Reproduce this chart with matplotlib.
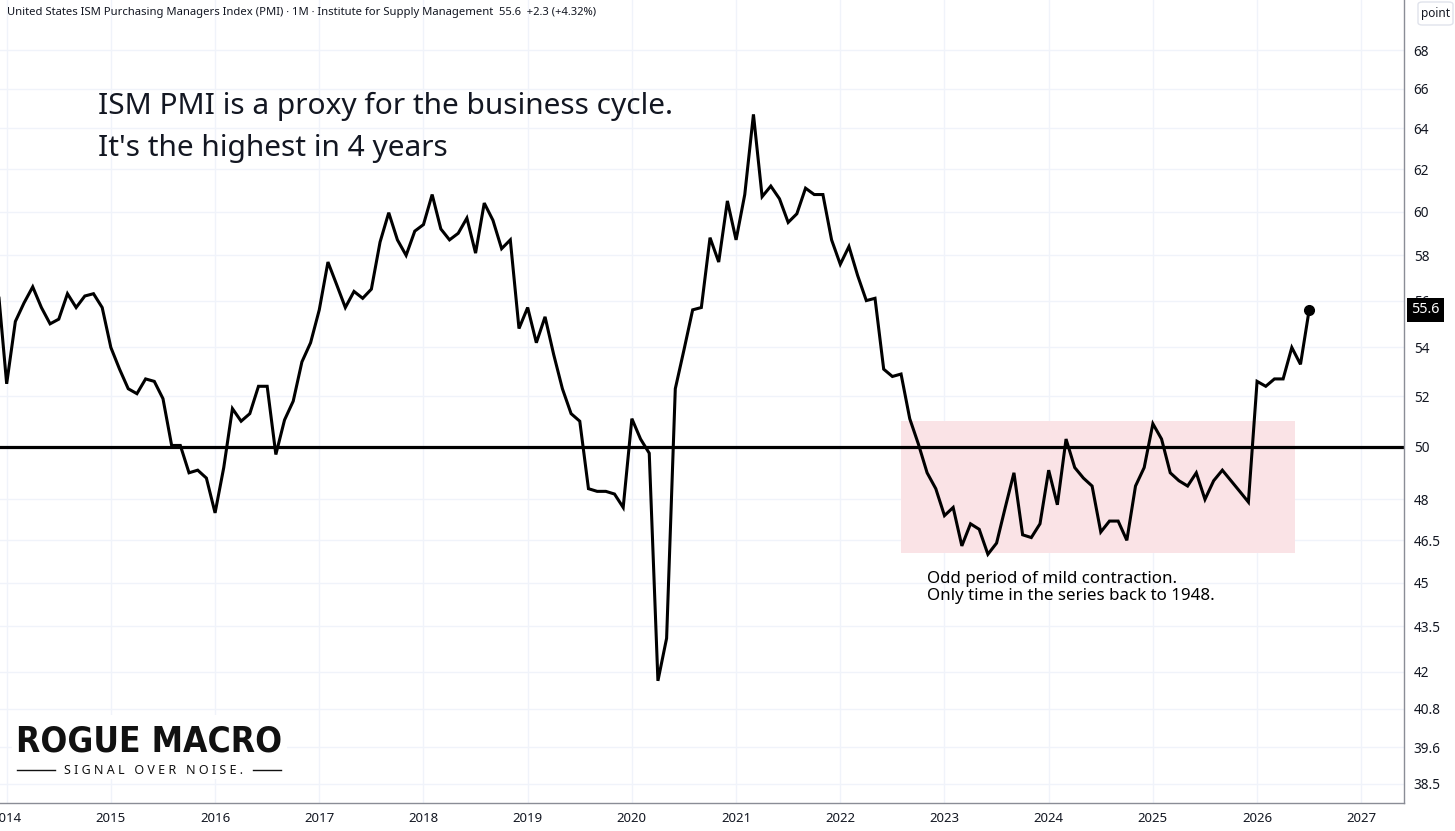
import numpy as np
import matplotlib.pyplot as plt
from matplotlib import font_manager
from matplotlib.patches import Rectangle, FancyBboxPatch
from matplotlib.lines import Line2D
from matplotlib.ticker import FixedLocator, FixedFormatter, NullLocator
from matplotlib.transforms import blended_transform_factory

# monthly ISM PMI, first value is Dec 2013
start_year = 2013
start_month = 12
pmi_2013 = [56.6]
pmi_2014 = [52.5, 55.1, 55.9, 56.6, 55.7, 55.0, 55.2, 56.3, 55.7, 56.2, 56.3, 55.7]
pmi_2015 = [54.0, 53.1, 52.3, 52.1, 52.7, 52.6, 51.9, 50.05, 50.05, 49.0, 49.1, 48.8]
pmi_2016 = [47.5, 49.2, 51.5, 51.0, 51.3, 52.4, 52.4, 49.7, 51.05, 51.8, 53.4, 54.2]
pmi_2017 = [55.6, 57.7, 56.7, 55.7, 56.4, 56.1, 56.5, 58.6, 59.95, 58.7, 58.0, 59.1]
pmi_2018 = [59.4, 60.8, 59.2, 58.7, 59.0, 59.7, 58.1, 60.4, 59.6, 58.3, 58.7, 54.8]
pmi_2019 = [55.7, 54.2, 55.3, 53.7, 52.3, 51.3, 51.0, 48.4, 48.3, 48.3, 48.2, 47.7]
pmi_2020 = [51.1, 50.3, 49.75, 41.7, 43.1, 52.3, 53.9, 55.6, 55.7, 58.8, 57.7, 60.5]
pmi_2021 = [58.7, 60.8, 64.7, 60.7, 61.2, 60.6, 59.5, 59.9, 61.1, 60.8, 60.8, 58.7]
pmi_2022 = [57.6, 58.4, 57.1, 56.0, 56.1, 53.1, 52.8, 52.9, 51.1, 50.1, 49.0, 48.4]
pmi_2023 = [47.4, 47.7, 46.3, 47.1, 46.9, 46.0, 46.4, 47.7, 49.0, 46.7, 46.6, 47.1]
pmi_2024 = [49.1, 47.8, 50.3, 49.2, 48.8, 48.5, 46.8, 47.2, 47.2, 46.5, 48.5, 49.2]
pmi_2025 = [50.9, 50.3, 49.0, 48.7, 48.5, 49.0, 48.0, 48.7, 49.1, 48.7, 48.3, 47.9]
pmi_2026 = [52.6, 52.4, 52.7, 52.7, 54.0, 53.3, 55.6]

pmi = (pmi_2013 + pmi_2014 + pmi_2015 + pmi_2016 + pmi_2017 + pmi_2018 + pmi_2019
       + pmi_2020 + pmi_2021 + pmi_2022 + pmi_2023 + pmi_2024 + pmi_2025 + pmi_2026)
t = start_year + (start_month - 1) / 12 + np.arange(len(pmi)) / 12

year_ticks = list(range(2014, 2028))
y_ticks = [38.5, 39.6, 40.8, 42, 43.5, 45, 46.5, 48, 50, 52, 54, 56, 58, 60, 62, 64, 66, 68]
y_labels = ['38.5', '39.6', '40.8', '42', '43.5', '45', '46.5', '48', '50',
            '52', '54', '56', '58', '60', '62', '64', '66', '68']

band_x = (2022.58, 2026.36)
band_y = (46.05, 51.0)

header = ("United States ISM Purchasing Managers Index (PMI) \u00b7 1M \u00b7 "
          "Institute for Supply Management  55.6  +2.3 (+4.32%)")

plt.rcParams['font.family'] = ['Noto Sans', 'DejaVu Sans']
W, H = 1455, 831
fig = plt.figure(figsize=(W / 100, H / 100), dpi=100)
fig.patch.set_facecolor('white')
ax = fig.add_axes([0, 28.3 / H, 1404 / W, 802.7 / H])

ax.set_yscale('log')
ax.set_xlim(2013.936, 2027.41)
ax.set_ylim(37.94, 70.7)

ax.yaxis.set_major_locator(FixedLocator(y_ticks))
ax.yaxis.set_major_formatter(FixedFormatter(y_labels))
ax.yaxis.set_minor_locator(NullLocator())
ax.yaxis.tick_right()
ax.set_xticks(year_ticks)
ax.set_xticklabels([str(y) for y in year_ticks])
ax.tick_params(axis='y', length=0, pad=7, labelsize=9.8, labelcolor='#131722')
ax.tick_params(axis='x', length=0, pad=6.5, labelsize=9.5, labelcolor='#131722')
for lbl in ax.get_xticklabels():
    lbl.set_fontweight('bold')

ax.grid(True, color='#f0f3fa', lw=1)
ax.set_axisbelow(True)
for side in ['top', 'left']:
    ax.spines[side].set_visible(False)
for side in ['right', 'bottom']:
    ax.spines[side].set_color('#8a8d96')
    ax.spines[side].set_linewidth(1)

ax.add_patch(Rectangle((band_x[0], band_y[0]), band_x[1] - band_x[0], band_y[1] - band_y[0],
                       facecolor='#fae3e6', edgecolor='none', zorder=1))
ax.axhline(50, color='black', lw=2.3, zorder=2)
ax.plot(t, pmi, color='black', lw=2.2, solid_joinstyle='miter', zorder=3)
ax.plot(t[-1], pmi[-1], 'o', color='black', ms=7, zorder=4)

trans = blended_transform_factory(ax.transAxes, ax.transData)
ax.annotate(f'{pmi[-1]}', xy=(1, pmi[-1]), xycoords=trans, xytext=(7, 0),
            textcoords='offset pixels', ha='left', va='center', color='white',
            fontsize=10.3, annotation_clip=False, zorder=10,
            bbox=dict(boxstyle='square,pad=0.3', fc='black', ec='none'))

fig.patches.append(FancyBboxPatch((1418 / W, 1 - 25 / H), 35 / W, 23 / H,
                                  boxstyle='round,pad=0,rounding_size=0.003',
                                  transform=fig.transFigure, fc='white', ec='#e0e3eb', lw=1))
fig.text(1435.5 / W, 1 - 13.5 / H, 'point', ha='center', va='center', fontsize=8.5,
         color='#131722')

fig.text(7 / W, 1 - 12 / H, header, ha='left', va='center', fontsize=8.1, color='#131722')

fig.text(98 / W, 1 - 114 / H, 'ISM PMI is a proxy for the business cycle.', ha='left',
         va='baseline', fontsize=21.5, color='#131722')
fig.text(98 / W, 1 - 156 / H, "It's the highest in 4 years", ha='left',
         va='baseline', fontsize=21.5, color='#131722')

ax.text(2022.835, 44.82, 'Odd period of mild contraction.\nOnly time in the series back to 1948.',
        ha='left', va='center', fontsize=12.2, color='black', linespacing=1.05, zorder=5)

# logo: prefer a condensed bold face if one is installed
logo_family, logo_stretch = 'DejaVu Sans', 'normal'
for f in font_manager.fontManager.ttflist:
    if f.weight in ('bold', 700, 800, 900, 'heavy', 'black') and f.stretch in (
            'condensed', 'semi-condensed', 'extra-condensed', 'ultra-condensed'):
        logo_family, logo_stretch = f.name, f.stretch
        break
for f in font_manager.fontManager.ttflist:
    if f.name == 'Liberation Sans Narrow':
        logo_family, logo_stretch = f.name, 'condensed'
        break

fig.patches.append(Rectangle((12 / W, 1 - 779 / H), 275 / W, 64 / H,
                             transform=fig.transFigure, fc='white', ec='none', zorder=5))
logo = fig.text(149 / W, 1 - 742 / H, 'ROGUE MACRO', ha='center', va='center', fontsize=31,
                fontweight='bold', family=logo_family, fontstretch=logo_stretch,
                color='#111111', zorder=6)
fig.canvas.draw()
logo_w = logo.get_window_extent().width
logo.set_fontsize(31 * 265 / logo_w)

fig.text(154 / W, 1 - 770 / H, 'S I G N A L   O V E R   N O I S E .', ha='center',
         va='center', fontsize=9, fontweight='bold', color='#111111', zorder=6)
for x0, x1 in [(17, 55), (253, 281)]:
    fig.add_artist(Line2D([x0 / W, x1 / W], [1 - 770 / H, 1 - 770 / H], color='#111111',
                          lw=1, transform=fig.transFigure, zorder=6))

fig.savefig('out.png', dpi=100, facecolor='white')
